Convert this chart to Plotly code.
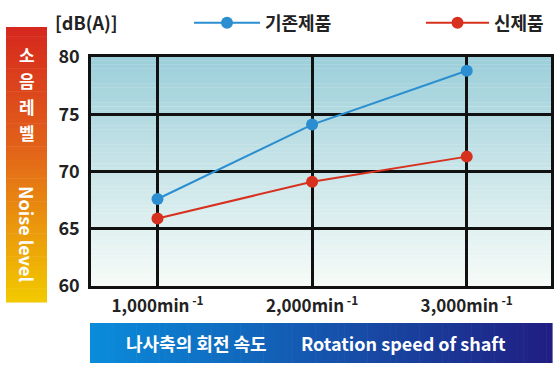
import plotly.graph_objects as go

speeds = [1, 2, 3]
tick_labels = ["1,000min<sup> -1</sup>", "2,000min<sup> -1</sup>", "3,000min<sup> -1</sup>"]
old_name = "기존제품"
new_name = "신제품"
old_values = [67.6, 74.1, 78.8]
new_values = [65.9, 69.1, 71.3]
y_ticks = [60, 65, 70, 75, 80]
side_chars = ["소", "음", "레", "벨"]

W, H = 560, 377
L, R, T, B = 91, 551, 57, 286
FONT = "Noto Sans CJK KR"
BLUE = "#2a8ed0"
RED = "#d8301f"

def px(xp):
    return (xp - L) / (R - L)

def py(yp):
    return (B - yp) / (B - T)

def lerp(c1, c2, t):
    return "rgb(%d,%d,%d)" % tuple(round(a + (b - a) * t) for a, b in zip(c1, c2))

fig = go.Figure()
fig.add_trace(go.Scatter(x=speeds, y=old_values, name=old_name, mode="lines+markers",
                         line=dict(color=BLUE, width=2), marker=dict(color=BLUE, size=12),
                         legend="legend"))
fig.add_trace(go.Scatter(x=speeds, y=new_values, name=new_name, mode="lines+markers",
                         line=dict(color=RED, width=2), marker=dict(color=RED, size=12),
                         legend="legend2"))

shapes = []
N = 60
top_c, bot_c = (156, 207, 218), (246, 251, 247)
for i in range(N):
    t = i / (N - 1)
    shapes.append(dict(type="rect", xref="paper", yref="paper", layer="below",
                       x0=0, x1=1, y0=1 - (i + 1) / N, y1=1 - i / N + 0.001,
                       line=dict(width=0), fillcolor=lerp(top_c, bot_c, t)))
bx0, bx1, by0, by1 = 6, 47, 27, 302
stops = [(0, (214, 40, 30)), (0.45, (226, 100, 25)), (1, (242, 200, 0))]
M = 60
for i in range(M):
    t = i / (M - 1)
    for j in range(len(stops) - 1):
        if stops[j][0] <= t <= stops[j + 1][0]:
            tt = (t - stops[j][0]) / (stops[j + 1][0] - stops[j][0])
            col = lerp(stops[j][1], stops[j + 1][1], tt)
            break
    ya = by0 + (by1 - by0) * i / M
    yb = by0 + (by1 - by0) * (i + 1) / M + 0.6
    shapes.append(dict(type="rect", xref="paper", yref="paper", layer="below",
                       x0=px(bx0), x1=px(bx1), y0=py(yb), y1=py(ya),
                       line=dict(width=0), fillcolor=col))
hx0, hx1, hy0, hy1 = 90, 552, 323, 363
K = 80
for i in range(K):
    t = i / (K - 1)
    col = lerp((10, 140, 218), (32, 30, 130), t)
    xa = hx0 + (hx1 - hx0) * i / K
    xb = hx0 + (hx1 - hx0) * (i + 1) / K + 0.6
    shapes.append(dict(type="rect", xref="paper", yref="paper", layer="below",
                       x0=px(xa), x1=px(xb), y0=py(hy1), y1=py(hy0),
                       line=dict(width=0), fillcolor=col))

annotations = [
    dict(text="<b>[dB(A)]</b>", x=px(53), y=py(22), xref="paper", yref="paper",
         xanchor="left", yanchor="middle", showarrow=False,
         font=dict(family=FONT, size=18, color="#222")),
    dict(text="<b>Noise level</b>", x=px(27), y=py(234), xref="paper", yref="paper",
         xanchor="center", yanchor="middle", showarrow=False, textangle=90,
         font=dict(family=FONT, size=18, color="white")),
    dict(text="<b>나사축의 회전 속도</b>", x=px(196), y=py(343), xref="paper", yref="paper",
         xanchor="center", yanchor="middle", showarrow=False,
         font=dict(family=FONT, size=18, color="white")),
    dict(text="<b>Rotation speed of shaft</b>", x=px(403), y=py(343), xref="paper", yref="paper",
         xanchor="center", yanchor="middle", showarrow=False,
         font=dict(family=FONT, size=18, color="white")),
]
for k, ch in enumerate(side_chars):
    annotations.append(dict(text="<b>%s</b>" % ch, x=px(26.5), y=py(54 + 26.3 * k),
                            xref="paper", yref="paper", xanchor="center", yanchor="middle",
                            showarrow=False, font=dict(family=FONT, size=17, color="white")))

leg_common = dict(orientation="h", xanchor="left", yanchor="middle", xref="paper", yref="paper",
                  bgcolor="rgba(0,0,0,0)", itemclick=False,
                  font=dict(family=FONT, size=18, color="#222", weight="bold"))

fig.update_layout(
    width=W, height=H,
    margin=dict(l=L, r=W - R, t=T, b=H - B, pad=0, autoexpand=False),
    paper_bgcolor="white", plot_bgcolor="rgba(0,0,0,0)",
    font=dict(family=FONT, color="#222"),
    shapes=shapes, annotations=annotations,
    showlegend=True,
    legend=dict(x=px(189), y=py(23), itemwidth=66, **leg_common),
    legend2=dict(x=px(421), y=py(23), itemwidth=63, **leg_common),
)
fig.update_xaxes(range=[0.57, 3.545], tickmode="array", tickvals=speeds, ticktext=tick_labels,
                 showgrid=True, gridcolor="#111", gridwidth=2.5, showline=True, linecolor="#111",
                 linewidth=2.5, mirror=True, zeroline=False, ticks="", ticklabelstandoff=3,
                 tickfont=dict(family=FONT, size=17, color="#222", weight="bold"), fixedrange=True)
fig.update_yaxes(range=[60, 80], tickmode="array", tickvals=y_ticks,
                 showgrid=True, gridcolor="#111", gridwidth=2.5, showline=True, linecolor="#111",
                 linewidth=2.5, mirror=True, zeroline=False, ticks="", ticklabelstandoff=5,
                 tickfont=dict(family=FONT, size=18, color="#222", weight="bold"), fixedrange=True)

fig.write_html("out.html", config={"displayModeBar": False},
               post_script="document.body.style.margin='0';document.body.style.overflow='hidden';")
